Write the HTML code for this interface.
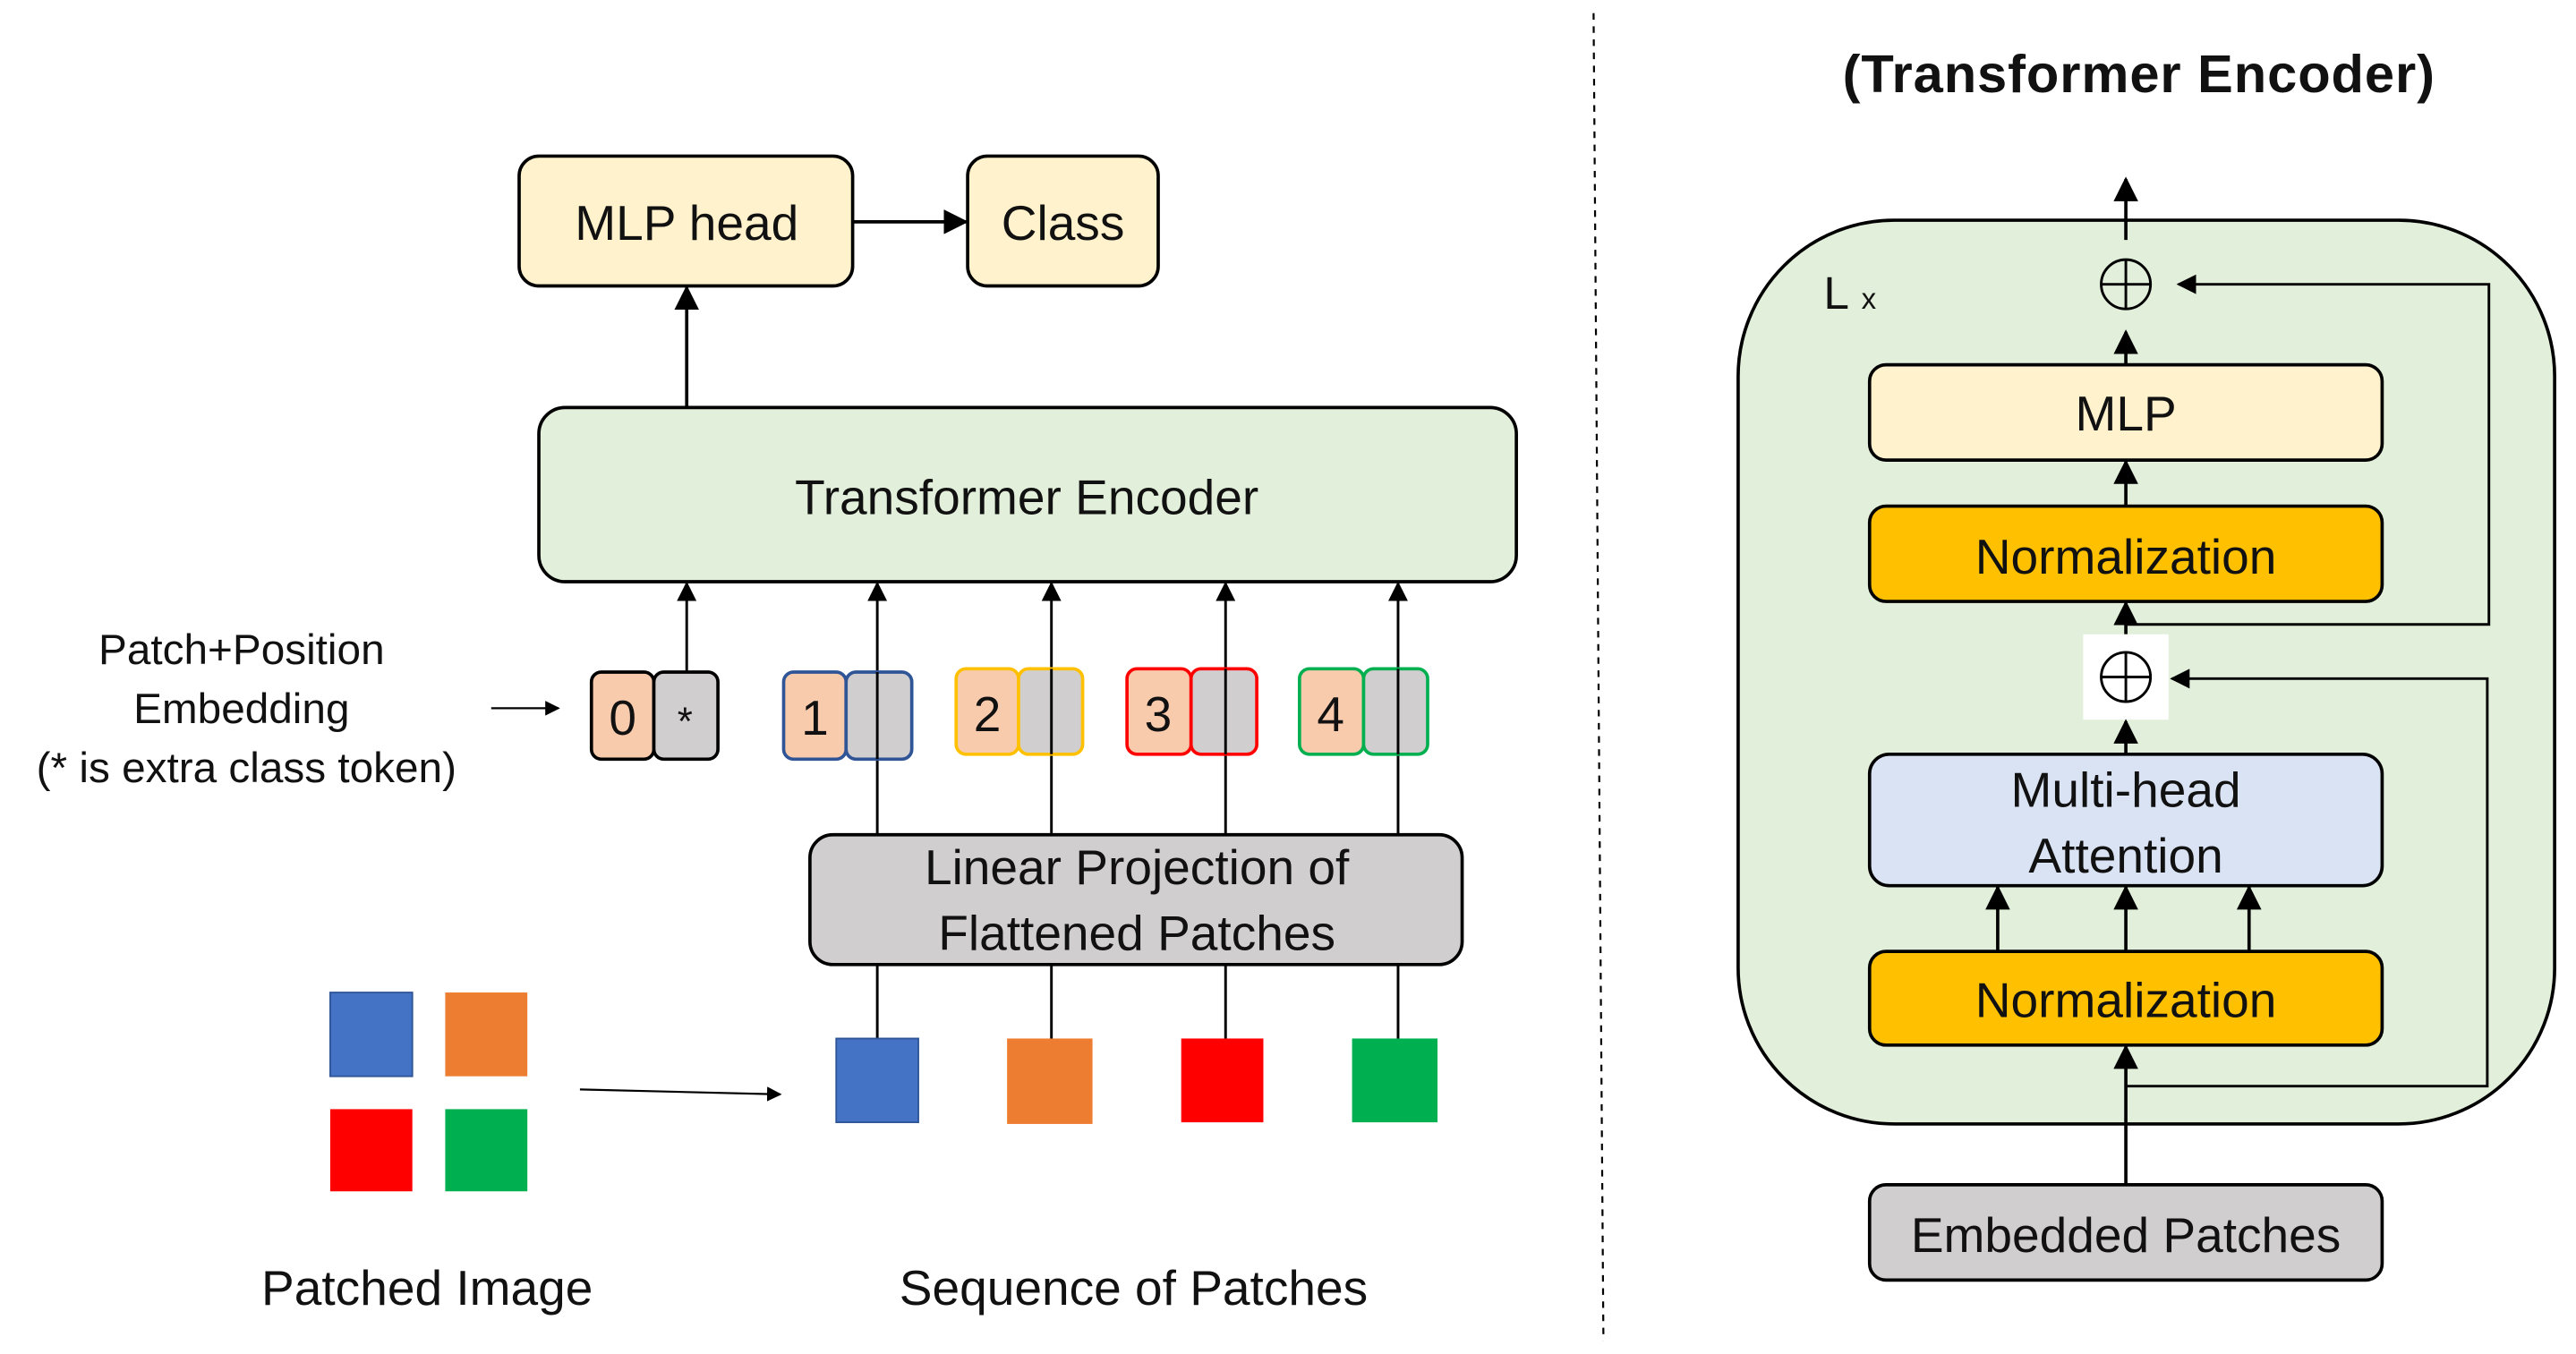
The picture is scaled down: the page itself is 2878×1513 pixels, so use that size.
<!DOCTYPE html>
<html><head><meta charset="utf-8"><style>
html,body{margin:0;padding:0;background:#fff;}
svg{display:block;}
text{font-family:"Liberation Sans","Noto Sans CJK SC",sans-serif;fill:#111;}
</style></head><body>
<svg width="2878" height="1513" viewBox="0 0 1568 824" preserveAspectRatio="none" xmlns="http://www.w3.org/2000/svg">
<defs>
<marker id="a" viewBox="0 0 10 10" refX="9" refY="5" markerWidth="7.5" markerHeight="7.5" orient="auto"><path d="M0,0 L10,5 L0,10 z" fill="#000"/></marker>
</defs>
<g stroke="#000" stroke-width="2" fill="none">
<rect x="316" y="95" width="203" height="79" rx="12" fill="#fff2cc"/>
<rect x="589" y="95" width="116" height="79" rx="12" fill="#fff2cc"/>
<line x1="519" y1="135" x2="588" y2="135" marker-end="url(#a)"/>
<line x1="418" y1="248" x2="418" y2="175" marker-end="url(#a)"/>
<rect x="328" y="248" width="595" height="106" rx="16" fill="#e2efda"/>
<line x1="418" y1="410" x2="418" y2="355" marker-end="url(#a)" stroke-width="1.6"/>
<line x1="534" y1="508" x2="534" y2="355" marker-end="url(#a)" stroke-width="1.6"/>
<line x1="640" y1="508" x2="640" y2="355" marker-end="url(#a)" stroke-width="1.6"/>
<line x1="746" y1="508" x2="746" y2="355" marker-end="url(#a)" stroke-width="1.6"/>
<line x1="851" y1="508" x2="851" y2="355" marker-end="url(#a)" stroke-width="1.6"/>
<rect x="360" y="409" width="38" height="53" rx="6" fill="#f8cbad"/>
<rect x="398" y="409" width="39" height="53" rx="6" fill="#d0cece"/>
<rect x="477" y="409" width="38" height="53" rx="6" fill="#f8cbad" stroke="#2f5597"/>
<rect x="515" y="409" width="40" height="53" rx="6" fill="#d0cece" stroke="#2f5597"/>
<rect x="582" y="407" width="38" height="52" rx="6" fill="#f8cbad" stroke="#ffc000"/>
<rect x="620" y="407" width="39" height="52" rx="6" fill="#d0cece" stroke="#ffc000"/>
<rect x="686" y="407" width="39" height="52" rx="6" fill="#f8cbad" stroke="#ff0000"/>
<rect x="725" y="407" width="40" height="52" rx="6" fill="#d0cece" stroke="#ff0000"/>
<rect x="791" y="407" width="39" height="52" rx="6" fill="#f8cbad" stroke="#00b050"/>
<rect x="830" y="407" width="39" height="52" rx="6" fill="#d0cece" stroke="#00b050"/>
<line x1="534" y1="409" x2="534" y2="462" stroke-width="1.6"/>
<line x1="640" y1="407" x2="640" y2="459" stroke-width="1.6"/>
<line x1="746" y1="407" x2="746" y2="459" stroke-width="1.6"/>
<line x1="851" y1="407" x2="851" y2="459" stroke-width="1.6"/>
<rect x="493" y="508" width="397" height="79" rx="14" fill="#d0cece"/>
<line x1="534" y1="587" x2="534" y2="632" stroke-width="1.6"/>
<line x1="640" y1="587" x2="640" y2="632" stroke-width="1.6"/>
<line x1="746" y1="587" x2="746" y2="632" stroke-width="1.6"/>
<line x1="851" y1="587" x2="851" y2="632" stroke-width="1.6"/>
<line x1="299" y1="431" x2="340" y2="431" marker-end="url(#a)" stroke-width="1.2"/>
<line x1="353" y1="663" x2="475" y2="666" marker-end="url(#a)" stroke-width="1.2"/>
</g>
<rect x="509" y="632" width="50" height="51" fill="#4472c4" stroke="#2f5597" stroke-width="1"/>
<rect x="613" y="632" width="52" height="52" fill="#ed7d31"/>
<rect x="719" y="632" width="50" height="51" fill="#ff0000"/>
<rect x="823" y="632" width="52" height="51" fill="#00b050"/>
<rect x="201" y="604" width="50" height="51" fill="#4472c4" stroke="#2f5597" stroke-width="1"/>
<rect x="271" y="604" width="50" height="51" fill="#ed7d31"/>
<rect x="201" y="675" width="50" height="50" fill="#ff0000"/>
<rect x="271" y="675" width="50" height="50" fill="#00b050"/>
<g font-size="30" text-anchor="middle">
<text x="418" y="146">MLP head</text>
<text x="647" y="146">Class</text>
<text x="625" y="313">Transformer Encoder</text>
<text x="692" y="538">Linear Projection of</text>
<text x="692" y="578">Flattened Patches</text>
<text x="379" y="447">0</text>
<text x="417" y="447" font-size="24">*</text>
<text x="496" y="447">1</text>
<text x="601" y="445">2</text>
<text x="705" y="445">3</text>
<text x="810" y="445">4</text>
<text x="260" y="794">Patched Image</text>
<text x="690" y="794">Sequence of Patches</text>
</g>
<g font-size="26" text-anchor="middle">
<text x="147" y="404">Patch+Position</text>
<text x="147" y="440">Embedding</text>
<text x="150" y="476">(* is extra class token)</text>
</g>
<line x1="970" y1="8" x2="976" y2="816" stroke="#000" stroke-width="1.2" stroke-dasharray="4,4"/>
<text x="1302" y="56" font-size="32.5" font-weight="bold" text-anchor="middle" letter-spacing="0.5">(Transformer Encoder)</text>
<g stroke="#000" stroke-width="2" fill="none">
<rect x="1058" y="134" width="497" height="550" rx="95" fill="#e2efda"/>
<line x1="1294" y1="146" x2="1294" y2="109" marker-end="url(#a)"/>
<circle cx="1294" cy="173" r="15" stroke-width="1.6"/>
<line x1="1279" y1="173" x2="1309" y2="173" stroke-width="1.6"/>
<line x1="1294" y1="158" x2="1294" y2="188" stroke-width="1.6"/>
<line x1="1294" y1="222" x2="1294" y2="202" marker-end="url(#a)"/>
<rect x="1138" y="222" width="312" height="58" rx="10" fill="#fff2cc"/>
<line x1="1294" y1="308" x2="1294" y2="281" marker-end="url(#a)"/>
<rect x="1138" y="308" width="312" height="58" rx="10" fill="#ffc000"/>
<polyline points="1294,380 1515,380 1515,173 1326,173" marker-end="url(#a)" stroke-width="1.6"/>
<line x1="1294" y1="386" x2="1294" y2="367" marker-end="url(#a)"/>
<rect x="1268" y="386" width="52" height="52" fill="#fff" stroke="none"/>
<circle cx="1294" cy="412" r="15" stroke-width="1.6"/>
<line x1="1279" y1="412" x2="1309" y2="412" stroke-width="1.6"/>
<line x1="1294" y1="397" x2="1294" y2="427" stroke-width="1.6"/>
<polyline points="1294,661 1514,661 1514,413 1322,413" marker-end="url(#a)" stroke-width="1.6"/>
<line x1="1294" y1="459" x2="1294" y2="439" marker-end="url(#a)"/>
<rect x="1138" y="459" width="312" height="80" rx="12" fill="#dae3f3"/>
<line x1="1216" y1="579" x2="1216" y2="540" marker-end="url(#a)"/>
<line x1="1294" y1="579" x2="1294" y2="540" marker-end="url(#a)"/>
<line x1="1369" y1="579" x2="1369" y2="540" marker-end="url(#a)"/>
<rect x="1138" y="579" width="312" height="57" rx="10" fill="#ffc000"/>
<line x1="1294" y1="721" x2="1294" y2="637" marker-end="url(#a)"/>
<rect x="1138" y="721" width="312" height="58" rx="10" fill="#d0cece"/>
</g>
<g font-size="30" text-anchor="middle">
<text x="1294" y="262">MLP</text>
<text x="1294" y="349">Normalization</text>
<text x="1294" y="491">Multi-head</text>
<text x="1294" y="531">Attention</text>
<text x="1294" y="619">Normalization</text>
<text x="1294" y="762">Embedded Patches</text>
</g>
<text x="1110" y="188" font-size="28">L</text>
<text x="1133" y="188" font-size="18">x</text>
</svg>
</body></html>
